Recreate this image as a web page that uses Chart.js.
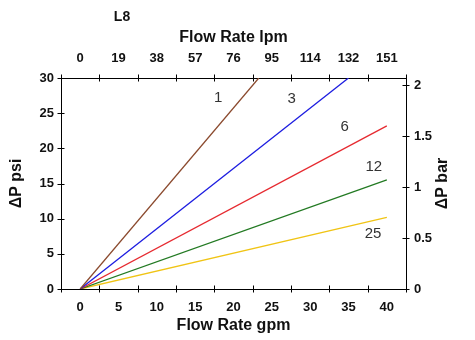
<!DOCTYPE html>
<html>
<head>
<meta charset="utf-8">
<script src="https://cdn.jsdelivr.net/npm/chart.js@4.4.1/dist/chart.umd.min.js"></script>
<style>
  html, body { margin: 0; padding: 0; background: #fff; }
  #wrap { width: 475px; height: 340px; position: relative; }
</style>
</head>
<body>
<div id="wrap"><canvas id="c"></canvas></div>
<script>
// Pressure drop (psi) against flow rate (gpm), one line per element rating
const seriesNames = ['1', '3', '6', '12', '25'];
const flow1 = [0, 23.3],  dp1 = [0, 30];
const flow3 = [0, 35.0],  dp3 = [0, 30];
const flow6 = [0, 40],    dp6 = [0, 23.2];
const flow12 = [0, 40],   dp12 = [0, 15.5];
const flow25 = [0, 40],   dp25 = [0, 10.2];

// Tick labels
const gpmTicks = [0, 5, 10, 15, 20, 25, 30, 35, 40];
const lpmTicks = ['0', '19', '38', '57', '76', '95', '114', '132', '151'];
const psiTicks = [0, 5, 10, 15, 20, 25, 30];
const barTicks = [0, 0.5, 1, 1.5, 2];

// Axis ranges and unit conversion
const GPM_MIN = -2.5, GPM_MAX = 42.5;
const PSI_MAX = 30;
const PSI_PER_BAR = 14.5038;

// Styling
const lineColors = ['#8b4a2e', '#1c1ce0', '#e62a30', '#237a23', '#f0c414'];
const FONT = '"Liberation Sans", Arial, sans-serif';

// Where each rating label sits, in data units (gpm, psi)
const labelSpots = [
  { text: '1',  gpm: 18.0, psi: 27.2 },
  { text: '3',  gpm: 27.6, psi: 27.1 },
  { text: '6',  gpm: 34.5, psi: 23.0 },
  { text: '12', gpm: 38.3, psi: 17.3 },
  { text: '25', gpm: 38.2, psi: 7.9 }
];

const flows = [flow1, flow3, flow6, flow12, flow25];
const drops = [dp1, dp3, dp6, dp12, dp25];

const datasets = seriesNames.map((name, i) => ({
  label: name,
  data: flows[i].map((f, j) => ({ x: f, y: drops[i][j] })),
  borderColor: lineColors[i],
  borderWidth: 1.3,
  pointRadius: 0,
  fill: false,
  tension: 0,
  xAxisID: 'x',
  yAxisID: 'y'
}));

// Tick marks are midway between flow labels; they cross the frame on both sides
const flowMarks = [];
for (let k = 0; k <= gpmTicks.length; k++) flowMarks.push(GPM_MIN + 5 * k);

const framePlugin = {
  id: 'frameExtras',
  afterDraw(chart) {
    const { ctx, chartArea: a, scales } = chart;
    const half = 3.5;
    ctx.save();
    ctx.strokeStyle = '#000';
    ctx.lineWidth = 1;
    ctx.beginPath();
    flowMarks.forEach(v => {
      const px = Math.round(scales.x.getPixelForValue(v)) + 0.5;
      ctx.moveTo(px, a.bottom - half); ctx.lineTo(px, a.bottom + half);
      ctx.moveTo(px, a.top - half); ctx.lineTo(px, a.top + half);
    });
    psiTicks.forEach(v => {
      const py = Math.round(scales.y.getPixelForValue(v)) + 0.5;
      ctx.moveTo(a.left - half, py); ctx.lineTo(a.left + half, py);
    });
    barTicks.forEach(v => {
      const py = Math.round(scales.y2.getPixelForValue(v)) + 0.5;
      ctx.moveTo(a.right - half, py); ctx.lineTo(a.right + half, py);
    });
    ctx.stroke();

    // rating labels beside each line
    ctx.fillStyle = '#333';
    ctx.font = '15px ' + FONT;
    ctx.textAlign = 'center';
    ctx.textBaseline = 'middle';
    labelSpots.forEach(s => {
      ctx.fillText(s.text, scales.x.getPixelForValue(s.gpm), scales.y.getPixelForValue(s.psi));
    });

    // chart title
    ctx.fillStyle = '#111';
    ctx.font = 'bold 14px ' + FONT;
    ctx.fillText('L8', 122, 17);

    // right axis title, reading bottom to top
    ctx.font = 'bold 16px ' + FONT;
    ctx.translate(443, (a.top + a.bottom) / 2);
    ctx.rotate(-Math.PI / 2);
    ctx.fillText('\u0394P bar', 0, 0);
    ctx.restore();
  }
};

const tickFont = { family: FONT, size: 13, weight: 'bold' };
const titleFont = { family: FONT, size: 16, weight: 'bold' };
const noGrid = { display: true, drawOnChartArea: false, drawTicks: false };
const frame = { display: true, color: '#000', width: 1 };

new Chart(document.getElementById('c'), {
  type: 'line',
  data: { datasets },
  options: {
    responsive: true,
    maintainAspectRatio: false,
    animation: false,
    layout: { padding: 0 },
    plugins: { legend: { display: false }, tooltip: { enabled: false } },
    scales: {
      x: {
        type: 'linear', position: 'bottom', min: GPM_MIN, max: GPM_MAX,
        grid: noGrid, border: frame,
        afterBuildTicks: s => { s.ticks = gpmTicks.map(v => ({ value: v })); },
        afterFit: s => { s.height = 51; },
        ticks: { font: tickFont, color: '#111', padding: 11, autoSkip: false, maxRotation: 0,
                 callback: v => String(v) },
        title: { display: true, text: 'Flow Rate gpm', font: titleFont, color: '#111',
                 padding: { top: 0, bottom: 5 } }
      },
      x2: {
        type: 'linear', position: 'top', min: GPM_MIN, max: GPM_MAX,
        grid: noGrid, border: frame,
        afterBuildTicks: s => { s.ticks = gpmTicks.map(v => ({ value: v })); },
        afterFit: s => { s.height = 78; },
        ticks: { font: tickFont, color: '#111', padding: 12, autoSkip: false, maxRotation: 0,
                 callback: (v, i) => lpmTicks[i] },
        title: { display: true, text: 'Flow Rate lpm', font: titleFont, color: '#111',
                 padding: { top: 28, bottom: 0 } }
      },
      y: {
        type: 'linear', position: 'left', min: 0, max: PSI_MAX,
        grid: noGrid, border: frame,
        afterBuildTicks: s => { s.ticks = psiTicks.map(v => ({ value: v })); },
        afterFit: s => { s.width = 61; },
        ticks: { font: tickFont, color: '#111', padding: 7, autoSkip: false,
                 callback: v => String(v) },
        title: { display: true, text: '\u0394P psi', font: titleFont, color: '#111',
                 padding: { top: 7, bottom: 0 } }
      },
      y2: {
        type: 'linear', position: 'right', min: 0, max: PSI_MAX / PSI_PER_BAR,
        grid: noGrid, border: frame,
        afterBuildTicks: s => { s.ticks = barTicks.map(v => ({ value: v })); },
        afterFit: s => { s.width = 69; },
        ticks: { font: tickFont, color: '#111', padding: 8, autoSkip: false,
                 callback: v => String(v) }
      }
    }
  },
  plugins: [framePlugin]
});
</script>
</body>
</html>
